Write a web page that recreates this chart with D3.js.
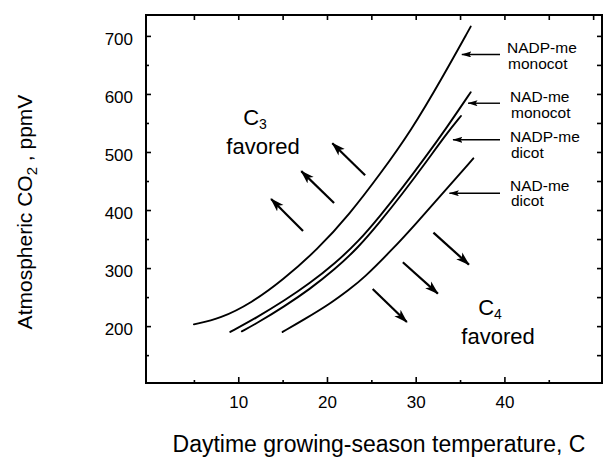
<!DOCTYPE html>
<html><head><meta charset="utf-8">
<script src="https://cdn.jsdelivr.net/npm/d3@7"></script>
<style>
html,body{margin:0;padding:0;background:#fff;}
svg{display:block;font-family:"Liberation Sans",Arial,Helvetica,sans-serif;}
</style></head>
<body>
<svg id="c" width="605" height="463"></svg>
<script>
// ---- data ----
const seriesNames = ["NADP-me monocot", "NAD-me monocot", "NADP-me dicot", "NAD-me dicot"];
const tempNADPmono = [5, 8, 11.5, 15, 19, 22.5, 26, 29.5, 33, 36.2];
const co2NADPmono  = [203, 213, 240, 279, 333, 392, 462, 537, 628, 716];
const tempNADmono  = [9.1, 12, 15.3, 18, 20.9, 23.5, 26, 28.5, 31, 33.5, 36.2];
const co2NADmono   = [190, 214, 245, 273, 308, 345, 390, 438, 489, 542, 603];
const tempNADPdi   = [10.4, 12, 15.3, 18, 20.9, 23.5, 26, 28.5, 31, 33.5, 35.1];
const co2NADPdi    = [191, 204, 235, 263, 298, 335, 380, 428, 479, 532, 562];
const tempNADdi    = [15, 17.5, 20.4, 22.5, 24.1, 27.3, 30, 32.7, 36.5];
const co2NADdi     = [190, 212, 239, 263, 282, 331, 376, 423, 489];
const xTicks = [10, 20, 30, 40];
const yTicks = [200, 300, 400, 500, 600, 700];
// direction arrows [fromT, fromCO2, toT, toCO2]
const c3Arrows = [[17.3, 364, 13.7, 419], [20.8, 412, 17.1, 467], [24.3, 460, 20.6, 515]];
const c4Arrows = [[32.0, 361, 36.0, 306], [28.55, 310, 32.5, 256], [25.15, 264, 29.0, 207]];
// label pointer tips [T, CO2]
const labelTips = [[35.2, 668], [35.9, 584], [34.2, 521], [33.8, 429]];
const labelLines = [["NADP-me", "monocot"], ["NAD-me", "monocot"], ["NADP-me", "dicot"], ["NAD-me", "dicot"]];

// ---- layout ----
const L = 146, R = 602, T = 15, B = 383;
const x = d3.scaleLinear().domain([-0.4, 51]).range([L, R]);
const y = d3.scaleLinear().domain([102, 736]).range([B, T]);
const svg = d3.select("#c");

const defs = svg.append("defs");
defs.append("marker").attr("id", "bigHead").attr("markerUnits", "userSpaceOnUse")
  .attr("viewBox", "0 0 14 10").attr("refX", 13).attr("refY", 5)
  .attr("markerWidth", 14).attr("markerHeight", 10).attr("orient", "auto")
  .append("path").attr("d", "M0,0.5 L14,5 L0,9.5 L3.5,5 Z").attr("fill", "#000");
defs.append("marker").attr("id", "smallHead").attr("markerUnits", "userSpaceOnUse")
  .attr("viewBox", "0 0 10 6").attr("refX", 9.5).attr("refY", 3)
  .attr("markerWidth", 10).attr("markerHeight", 6).attr("orient", "auto")
  .append("path").attr("d", "M0,0 L10,3 L0,6 L2,3 Z").attr("fill", "#000");

// axes (ticks inward)
const fs = "17px";
const gx = svg.append("g").attr("transform", `translate(0,${B})`)
  .call(d3.axisBottom(x).tickValues(xTicks).tickSize(-6).tickPadding(13).tickFormat(d3.format("d")));
const gxm = svg.append("g").attr("transform", `translate(0,${B})`)
  .call(d3.axisBottom(x).tickValues([5, 15, 25, 35, 45]).tickSize(-3).tickFormat(""));
const gxt = svg.append("g").attr("transform", `translate(0,${T})`)
  .call(d3.axisTop(x).tickValues([5, 10, 15, 20, 25, 30, 35, 40, 45, 50]).tickSize(-5).tickFormat(""));
const gy = svg.append("g").attr("transform", `translate(${L},0)`)
  .call(d3.axisLeft(y).tickValues(yTicks).tickSize(-5).tickPadding(13).tickFormat(d3.format("d")));
const gym = svg.append("g").attr("transform", `translate(${L},0)`)
  .call(d3.axisLeft(y).tickValues([150, 250, 350, 450, 550, 650]).tickSize(-3).tickFormat(""));
const gyr = svg.append("g").attr("transform", `translate(${R},0)`)
  .call(d3.axisRight(y).tickValues(d3.range(150, 736, 50)).tickSize(-5).tickFormat(""));
[gx, gxm, gxt, gy, gym, gyr].forEach(g => {
  g.select(".domain").remove();
  g.selectAll("line").attr("stroke", "#000").attr("stroke-width", 1.6);
  g.selectAll("text").attr("fill", "#000").style("font-size", fs).style("font-family", "inherit");
});
gy.selectAll("text").attr("dy", "0.48em");

// frame
svg.append("rect").attr("x", L).attr("y", T).attr("width", R - L).attr("height", B - T)
  .attr("fill", "none").attr("stroke", "#000").attr("stroke-width", 2);

// curves
const line = d3.line().x(d => x(d[0])).y(d => y(d[1])).curve(d3.curveBasis);
const series = [[tempNADPmono, co2NADPmono], [tempNADmono, co2NADmono], [tempNADPdi, co2NADPdi], [tempNADdi, co2NADdi]];
series.forEach((s, i) => {
  const pts = s[0].map((t, j) => [t, s[1][j]]);
  svg.append("path").datum(pts).attr("d", line).attr("fill", "none")
    .attr("stroke", "#000").attr("stroke-width", 1.9).attr("stroke-linecap", "round")
    .attr("class", "curve").attr("data-name", seriesNames[i]);
});

// direction arrows
c3Arrows.concat(c4Arrows).forEach(a => {
  svg.append("line").attr("x1", x(a[0])).attr("y1", y(a[1])).attr("x2", x(a[2])).attr("y2", y(a[3]))
    .attr("stroke", "#000").attr("stroke-width", 2.2).attr("marker-end", "url(#bigHead)");
});

// region labels
function regionLabel(cx, cy, sub) {
  const t = svg.append("text").attr("x", cx - 8).attr("y", cy).attr("text-anchor", "middle")
    .style("font-size", "22px").attr("fill", "#000");
  t.append("tspan").text("C");
  t.append("tspan").text(sub).attr("dy", 4).style("font-size", "14px");
  svg.append("text").attr("x", cx).attr("y", cy + 29).attr("text-anchor", "middle")
    .style("font-size", "22px").attr("fill", "#000").text("favored");
}
regionLabel(263, 125, "3");
regionLabel(498, 315, "4");

// series labels with pointers
const labelX = [507, 510, 510, 510];
const labelBase = [53, 102, 142, 190.5];
labelTips.forEach((tp, i) => {
  const ty = y(tp[1]);
  svg.append("line").attr("x1", 500).attr("y1", ty).attr("x2", x(tp[0])).attr("y2", ty)
    .attr("stroke", "#000").attr("stroke-width", 1.4).attr("marker-end", "url(#smallHead)");
  const t = svg.append("text").attr("x", labelX[i]).attr("y", labelBase[i])
    .style("font-size", "15.5px").attr("fill", "#000");
  t.append("tspan").attr("x", labelX[i]).text(labelLines[i][0]);
  t.append("tspan").attr("x", labelX[i] + 1).attr("dy", 15.5).text(labelLines[i][1]);
});

// axis titles
svg.append("text").attr("x", 379).attr("y", 452).attr("text-anchor", "middle")
  .style("font-size", "23px").text("Daytime growing-season temperature, C");
const yt = svg.append("text").attr("transform", "translate(32,212) rotate(-90)")
  .attr("text-anchor", "middle").style("font-size", "21px");
yt.append("tspan").text("Atmospheric CO");
yt.append("tspan").text("2").attr("dy", 5).style("font-size", "15px");
yt.append("tspan").text(" , ppmV").attr("dy", -5);
</script>
</body></html>
